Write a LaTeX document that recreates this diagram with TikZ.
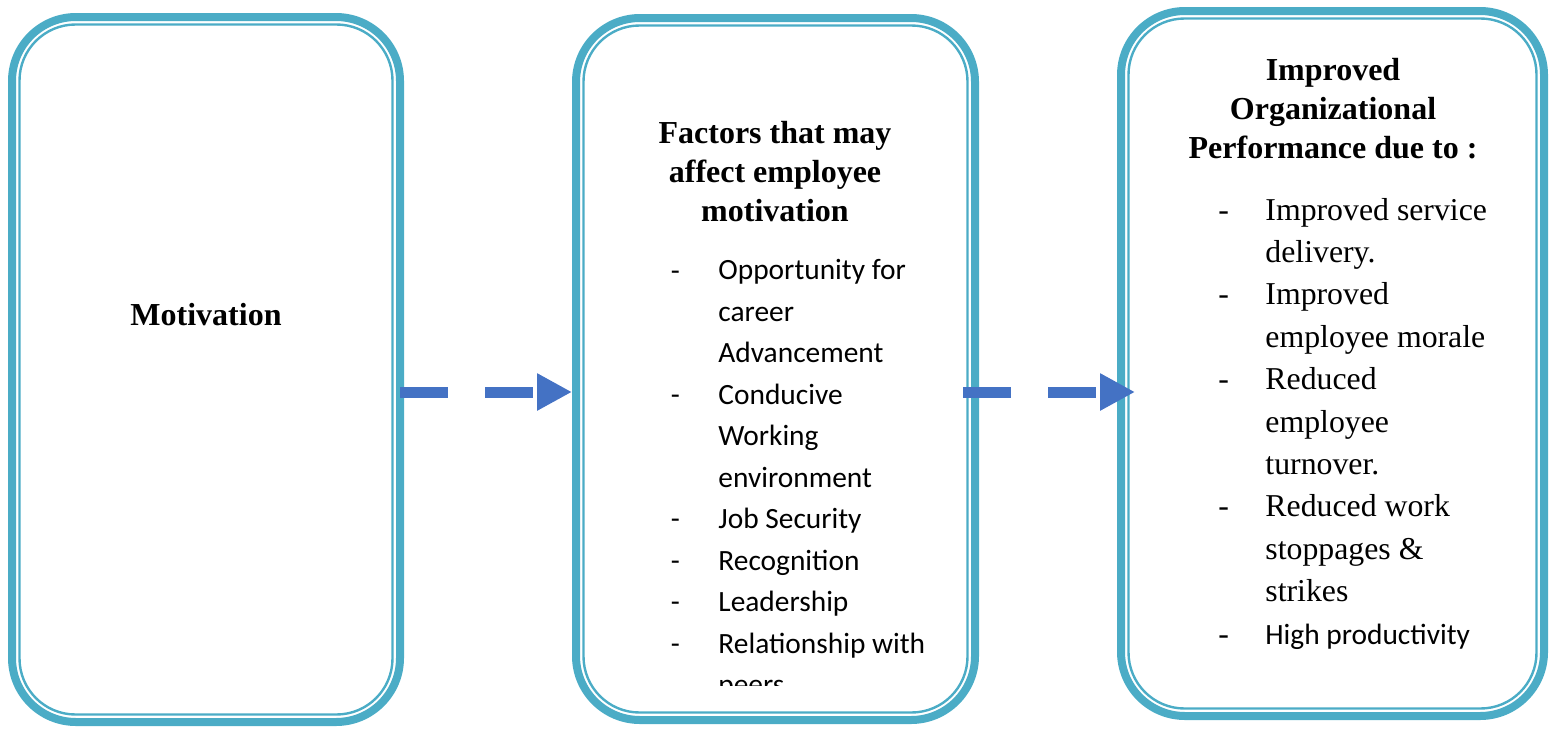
\documentclass[tikz,border=0pt]{standalone}
\usepackage{fontspec}
\setmainfont{Liberation Serif}
\newfontfamily\calibri{Carlito}
\usetikzlibrary{arrows.meta}

\definecolor{frameblue}{HTML}{4BACC6}
\definecolor{flowblue}{HTML}{4472C4}

\tikzset{
  frame/.style={draw=frameblue, line width=4pt, rounded corners=32pt, outer sep=0pt, inner sep=0pt},
  frameinner/.style={draw=frameblue, line width=1.2pt, rounded corners=28pt},
  head/.style={font=\bfseries\fontsize{16}{19.5}\selectfont, inner sep=0pt, align=center, anchor=base},
  txt/.style={font=\fontsize{15.9}{21.2}\selectfont, inner sep=0pt, align=left, anchor=base west},
  caltxt/.style={font=\calibri\fontsize{14.7}{20.73}\selectfont, inner sep=0pt, align=left, anchor=base west},
  flow/.style={draw=flowblue, line width=5.5pt, dash pattern=on 24pt off 18.5pt,
    -{Triangle[length=17.5pt,width=17.5pt]}},
}

\begin{document}
\begin{tikzpicture}[x=0.5pt, y=-0.5pt]
        \useasboundingbox (0,0) rectangle (1556,728);

        % the three frames
        \node[frame, minimum width=194pt, minimum height=352.5pt] (motbox) at (206,369.5) {};
        \node[frame, minimum width=199.5pt, minimum height=351pt] (facbox) at (775.5,369) {};
        \node[frame, minimum width=211.5pt, minimum height=352.5pt] (perfbox) at (1332.5,363.5) {};
        \foreach \b in {motbox, facbox, perfbox}
          \draw[frameinner] ([shift={(7.5,7.5)}]\b.north west) rectangle ([shift={(-7.5,-7.5)}]\b.south east);

        % left box
        \node[head] (mot) at (206,325) {Motivation};

        % middle box (base = last line of each node)
        \node[head] (factitle) at (775,221) {Factors that may\\affect employee\\motivation};
        \node[caltxt] (fd1) at (670.5,280) {-};
        \node[caltxt] (f1) at (718,362.9) {Opportunity for\\career\\Advancement};
        \node[caltxt] (fd2) at (670.5,404.4) {-};
        \node[caltxt] (f2) at (718,487.3) {Conducive\\Working\\environment};
        \node[caltxt] (fd3) at (670.5,528.7) {-};
        \node[caltxt] (f3) at (718,528.7) {Job Security};
        \node[caltxt] (fd4) at (670.5,570.2) {-};
        \node[caltxt] (f4) at (718,570.2) {Recognition};
        \node[caltxt] (fd5) at (670.5,611.6) {-};
        \node[caltxt] (f5) at (718,611.6) {Leadership};
        \node[caltxt] (fd6) at (670.5,653) {-};
        \begin{scope}
          \clip (0,0) rectangle (1556,685);
          \node[caltxt] (f6) at (718,694.5) {Relationship with\\peers};
        \end{scope}

        % right box
        \node[head] (perftitle) at (1333,158) {Improved\\Organizational\\Performance due to :};
        \node[txt] (pd1) at (1218,220) {-};
        \node[txt] (p1) at (1265,262.4) {Improved service\\delivery.};
        \node[txt] (pd2) at (1218,304.8) {-};
        \node[txt] (p2) at (1265,347.2) {Improved\\employee morale};
        \node[txt] (pd3) at (1218,389.6) {-};
        \node[txt] (p3) at (1265,474.4) {Reduced\\employee\\turnover.};
        \node[txt] (pd4) at (1218,516.8) {-};
        \node[txt] (p4) at (1265,601.6) {Reduced work\\stoppages \&\\strikes};
        \node[txt] (pd5) at (1218,644) {-};
        \node[caltxt] (p5) at (1265,644) {High productivity};

        % dashed flow arrows
        \draw[flow, shorten >=2pt] (motbox.east |- 0,392) -- (facbox.west |- 0,392);
        \draw[flow, shorten <=-6pt, shorten >=-7pt] (facbox.east |- 0,392) -- (perfbox.west |- 0,392);
      \end{tikzpicture}
\end{document}
